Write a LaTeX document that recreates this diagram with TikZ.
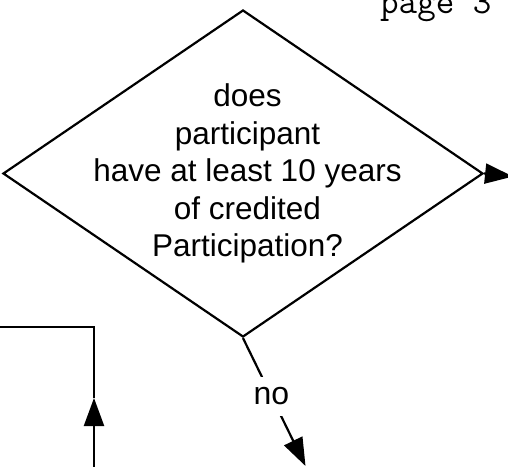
\documentclass[tikz,border=0pt]{standalone}
\usepackage{fontspec}
\setmainfont{Liberation Sans}
\usetikzlibrary{shapes.geometric,arrows.meta}

\tikzset{
  flowline/.style={line width=2.2pt, line join=miter},
  bigtip/.style={-{Triangle[length=28pt,width=20pt]}},
  decision/.style={draw, shape=diamond, line width=2.2pt, inner sep=0pt,
    minimum width=480pt, minimum height=327pt},
  questiontext/.style={align=center, inner sep=0pt,
    font=\fontsize{31.5pt}{37.5pt}\selectfont},
  edgelabel/.style={fill=white, inner xsep=3pt, inner ysep=11pt,
    font=\fontsize{32pt}{37.5pt}\selectfont},
  pagemark/.style={anchor=base west, inner sep=0pt,
    font=\fontsize{36pt}{40pt}\ttfamily},
}

\begin{document}
\begin{tikzpicture}[x=1pt, y=-1pt]
  \useasboundingbox (0,0) rectangle (508,466);
  \clip (0,0) rectangle (508,466);

  % page marker
  \node[pagemark] (pg) at (380,13) {page 3};

  % decision diamond and its question
  \node[decision] (q) at (243,173.5) {};
  \node[questiontext] (qt) at ([xshift=4.5pt]q.center)
    {does\\participant\\have at least 10 years\\of credited\\Participation?};

  % "yes" exit to the right
  \coordinate (rx) at (513,176.5);
  \draw[flowline, bigtip] (q.east) -- (rx);

  % "no" exit downward
  \coordinate (nx) at (305.5,466);
  \draw[flowline, bigtip] (q.south) -- node[edgelabel, pos=0.455] (no) {no} (nx);

  % return line on the left
  \coordinate (lb) at (94,470);
  \coordinate (lt) at (94,398);
  \coordinate (lc) at (94,327);
  \coordinate (le) at (-5,327);
  \draw[flowline, bigtip] (lb) -- (lt);
  \draw[flowline] (lt) -- (lc) -- (le);
\end{tikzpicture}
\end{document}
